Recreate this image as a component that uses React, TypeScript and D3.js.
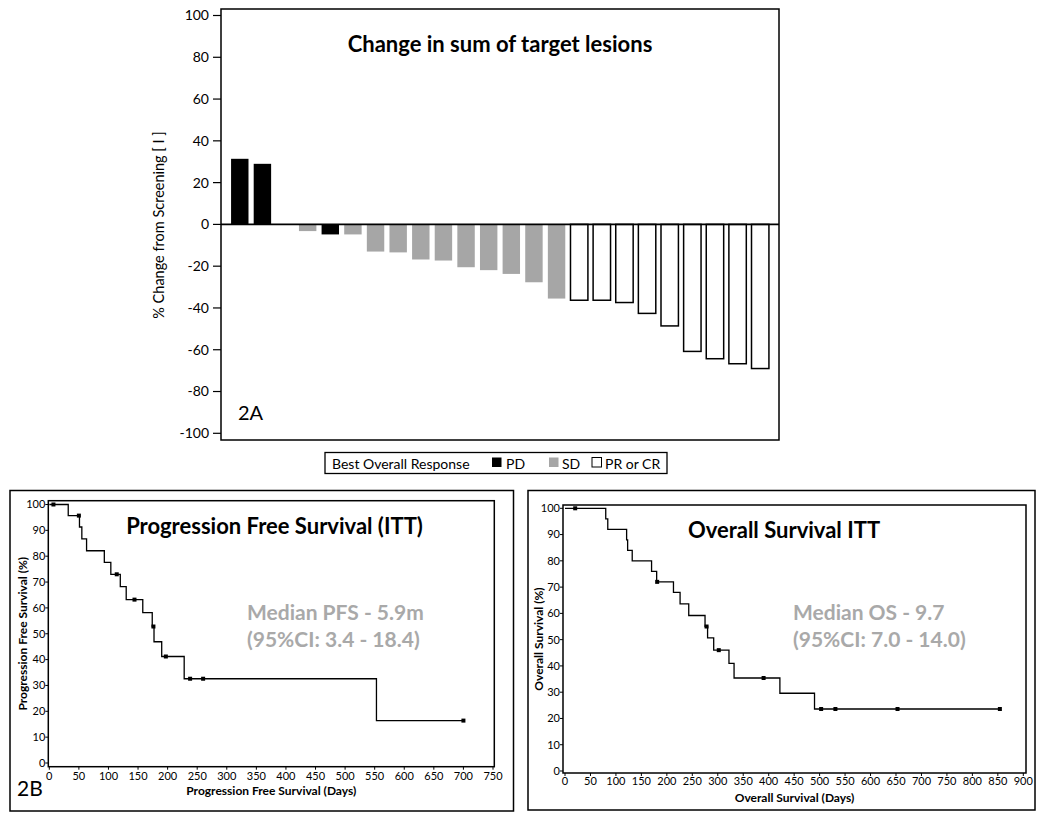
import * as d3 from "d3"
import React from "react"

// waterfall: best % change per patient (one empty slot after the first two)
const patientIds = [
  "P01", "P02", "P03", "P04", "P05", "P06", "P07", "P08", "P09", "P10", "P11", "P12",
  "P13", "P14", "P15", "P16", "P17", "P18", "P19", "P20", "P21", "P22", "P23", "P24",
]
const changeValues = [
  31.4, 29.0, null, -3.2, -4.8, -4.8, -13.0, -13.4, -16.8, -17.3, -20.5, -21.9,
  -23.7, -27.7, -35.5, -36.3, -36.3, -37.4, -42.6, -48.6, -60.8, -64.3, -66.7, -69.0,
]
const responses = [
  "PD", "PD", "NA", "SD", "PD", "SD", "SD", "SD", "SD", "SD", "SD", "SD",
  "SD", "SD", "SD", "PR", "PR", "PR", "PR", "PR", "PR", "PR", "PR", "PR",
]
const legendLabels = ["PD", "SD", "PR or CR"]

// Kaplan-Meier steps
const pfsTimes = [0, 32, 51, 55, 63, 93, 104, 120, 130, 158, 174, 177, 190, 228, 553, 700]
const pfsSurv = [100, 95.7, 91.3, 86.7, 82.1, 77.6, 73.0, 68.2, 63.2, 58.2, 52.8, 46.9, 41.2, 32.6, 16.4, 16.4]
const pfsCensorTimes = [7, 50, 114, 144, 176, 197, 238, 260, 700]
const pfsCensorSurv = [100, 95.7, 73.0, 63.2, 52.8, 41.2, 32.6, 32.6, 16.4]

const osTimes = [0, 80, 84, 121, 123, 132, 170, 180, 213, 226, 243, 275, 280, 292, 322, 332, 422, 490, 854]
const osSurv = [100, 96, 92, 88, 84, 80, 76, 72, 68, 63.6, 59.2, 55, 50.7, 46, 41, 35.4, 29.6, 23.6, 23.6]
const osCensorTimes = [20, 181, 278, 302, 390, 503, 531, 653, 854]
const osCensorSurv = [100, 72, 55, 46, 35.4, 23.6, 23.6, 23.6, 23.6]

const FONT = "Lato, 'Open Sans', sans-serif"
const fillFor = { PD: "#000", SD: "#a6a6a6", PR: "#fff" }

const KMPanel = ({ outer, box, xMax, xRange, yRange, times, surv, cTimes, cSurv,
  title, titleX, medianLines, medianX, xLabel, xLabelY, yLabel, yLabelX, tickY, panelTag }) => {
  const x = d3.scaleLinear().domain([0, xMax]).range(xRange)
  const y = d3.scaleLinear().domain([0, 100]).range(yRange)
  const pts = times.map((t, i) => [t, surv[i]])
  const line = d3.line().curve(d3.curveStepAfter).x(d => x(d[0])).y(d => y(d[1]))
  const xt = d3.range(0, xMax + 1, 50)
  const yt = d3.range(0, 101, 10)
  return (
    <g fontFamily={FONT}>
      <rect x={outer[0]} y={outer[1]} width={outer[2] - outer[0]} height={outer[3] - outer[1]}
        fill="none" stroke="#000" strokeWidth={1.5} />
      <rect x={box[0]} y={box[1]} width={box[2] - box[0]} height={box[3] - box[1]}
        fill="none" stroke="#000" strokeWidth={1.5} />
      {yt.map(v => (
        <g key={"y" + v}>
          <line x1={box[0] - 3} x2={box[0]} y1={y(v)} y2={y(v)} stroke="#000" />
          <text x={box[0] - 3} y={y(v)} dy="0.35em" textAnchor="end" fontSize={11}>{v}</text>
        </g>
      ))}
      {xt.map(v => (
        <g key={"x" + v}>
          <line x1={x(v)} x2={x(v)} y1={box[3]} y2={box[3] + 3} stroke="#000" />
          <text x={x(v)} y={tickY} textAnchor="middle" fontSize={11}>{v}</text>
        </g>
      ))}
      <path d={line(pts)} fill="none" stroke="#000" strokeWidth={1.3} />
      {cTimes.map((t, i) => (
        <rect key={"c" + i} x={x(t) - 2} y={y(cSurv[i]) - 2} width={4} height={4} fill="#000" />
      ))}
      <text x={titleX} y={box[1] + 33} textAnchor="middle" fontSize={22} fontWeight="bold">{title}</text>
      {medianLines.map((s, i) => (
        <text key={"m" + i} x={medianX} y={620 + i * 27} fontSize={21} fontWeight="bold" fill="#a9a9a9">{s}</text>
      ))}
      <text x={(box[0] + box[2]) / 2} y={xLabelY} textAnchor="middle" fontSize={12} fontWeight="bold">{xLabel}</text>
      <text transform={`translate(${yLabelX},${(box[1] + box[3]) / 2}) rotate(-90)`} textAnchor="middle"
        fontSize={12} fontWeight="bold">{yLabel}</text>
      {panelTag && <text x={17} y={796} fontSize={21}>{panelTag}</text>}
    </g>
  )
}

const App = () => {
  const left = 221, right = 779, top = 9, bottom = 440
  const x = d3.scaleBand().domain(patientIds).range([left, right]).paddingInner(0.23).paddingOuter(0.445)
  const y = d3.scaleLinear().domain([-100, 100]).range([433.3, 15.5])
  const bars = patientIds
    .map((id, i) => ({ id, v: changeValues[i], r: responses[i] }))
    .filter(d => d.v !== null)

  const legendX = [492, 549, 592]
  const legendTextX = [506, 562, 605]
  const legendFill = ["#000", "#a6a6a6", "#fff"]

  return (
    <svg width={1050} height={820} style={{ position: "absolute", left: 0, top: 0, background: "#fff" }}>
      <rect width={1050} height={820} fill="#fff" />
      <g fontFamily={FONT}>
        {bars.map(d => {
          const y0 = y(0), y1 = y(d.v)
          return (
            <rect key={d.id} x={x(d.id)} width={x.bandwidth()}
              y={Math.min(y0, y1)} height={Math.abs(y1 - y0)}
              fill={fillFor[d.r]} stroke={d.r === "PR" ? "#000" : "none"} strokeWidth={1.5} />
          )
        })}
        <line x1={left} x2={right} y1={y(0)} y2={y(0)} stroke="#000" strokeWidth={1.8} />
        <rect x={left} y={top} width={right - left} height={bottom - top} fill="none" stroke="#000" strokeWidth={1.5} />
        {y.ticks(10).map(v => (
          <g key={v}>
            <line x1={left - 8} x2={left} y1={y(v)} y2={y(v)} stroke="#000" strokeWidth={1.2} />
            <text x={left - 12} y={y(v)} dy="0.35em" textAnchor="end" fontSize={14}>{v}</text>
          </g>
        ))}
        <text transform={`translate(164,225) rotate(-90)`} textAnchor="middle" fontSize={14.5}>
          % Change from Screening [ I ]
        </text>
        <text x={(left + right) / 2} y={52} textAnchor="middle" fontSize={22} fontWeight="bold">
          Change in sum of target lesions
        </text>
        <text x={238} y={420} fontSize={20}>2A</text>

        <rect x={325} y={452.5} width={342} height={21} fill="none" stroke="#000" strokeWidth={1.3} />
        <text x={332} y={469} fontSize={14}>Best Overall Response</text>
        {legendLabels.map((lab, i) => (
          <g key={lab}>
            <rect x={legendX[i]} y={457.5} width={9.5} height={9.5} fill={legendFill[i]}
              stroke={i === 2 ? "#000" : "none"} strokeWidth={1} />
            <text x={legendTextX[i]} y={469} fontSize={14}>{lab}</text>
          </g>
        ))}
      </g>

      <KMPanel outer={[10, 490.5, 513.5, 811]} box={[48.3, 500.7, 494.3, 766.7]} xMax={750}
        xRange={[49.3, 493]} yRange={[763, 504.5]}
        times={pfsTimes} surv={pfsSurv} cTimes={pfsCensorTimes} cSurv={pfsCensorSurv}
        title="Progression Free Survival (ITT)" titleX={274.5}
        medianLines={["Median PFS - 5.9m", "(95%CI: 3.4 - 18.4)"]} medianX={247}
        xLabel="Progression Free Survival (Days)" xLabelY={795}
        yLabel="Progression Free Survival (%)" yLabelX={27} tickY={780} panelTag="2B" />

      <KMPanel outer={[528, 490.5, 1035, 810]} box={[563, 505, 1026, 773]} xMax={900}
        xRange={[565, 1023.3]} yRange={[771, 508.3]}
        times={osTimes} surv={osSurv} cTimes={osCensorTimes} cSurv={osCensorSurv}
        title="Overall Survival ITT" titleX={784}
        medianLines={["Median OS - 9.7", "(95%CI: 7.0 - 14.0)"]} medianX={793}
        xLabel="Overall Survival (Days)" xLabelY={802}
        yLabel="Overall Survival (%)" yLabelX={543} tickY={785} panelTag={null} />
    </svg>
  )
}

export default App
